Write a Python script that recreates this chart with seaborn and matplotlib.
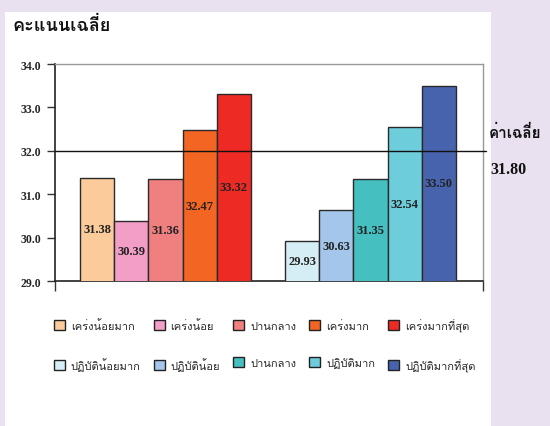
import matplotlib
matplotlib.use("Agg")
import matplotlib.pyplot as plt
from matplotlib import font_manager
from matplotlib.ft2font import FT2Font
from matplotlib.patches import Patch, Rectangle
import seaborn as sns
import pandas as pd

# Data
stress_labels = ["เคร่งน้อยมาก", "เคร่งน้อย", "ปานกลาง", "เคร่งมาก", "เคร่งมากที่สุด"]
stress_scores = [31.38, 30.39, 31.36, 32.47, 33.32]
stress_colors = ["#FBCB9B", "#F29EC6", "#F08080", "#F26522", "#EE2A24"]

practice_labels = ["ปฏิบัติน้อยมาก", "ปฏิบัติน้อย", "ปานกลาง", "ปฏิบัติมาก", "ปฏิบัติมากที่สุด"]
practice_scores = [29.93, 30.63, 31.35, 32.54, 33.50]
practice_colors = ["#D5EEF5", "#A3C6EA", "#45BFBF", "#6DCDDB", "#4863AE"]

mean_score = 31.80
y_ticks = [29.0, 30.0, 31.0, 32.0, 33.0, 34.0]

# find a font that has Thai glyphs
thai_font = None
for f in font_manager.fontManager.ttflist:
    try:
        if ord("ก") in FT2Font(f.fname).get_charmap():
            thai_font = f.name
            break
    except Exception:
        pass
families = ([thai_font] if thai_font else []) + ["DejaVu Sans"]

sns.set_theme(style="white")
plt.rcParams["font.family"] = families

# two groups with one empty slot between them
positions = [0, 1, 2, 3, 4, 6, 7, 8, 9, 10]
df = pd.DataFrame({
    "pos": positions,
    "score": stress_scores + practice_scores,
    "key": [f"k{i}" for i in range(10)],
})
colors = stress_colors + practice_colors

fig = plt.figure(figsize=(5.5, 4.27), dpi=100)
fig.patch.set_facecolor("#E9E1EF")
fig.patches.append(Rectangle((5 / 550, 0), 486 / 550, (427 - 12.5) / 427,
                             transform=fig.transFigure, facecolor="white",
                             edgecolor="none", zorder=-5))

ax = fig.add_axes([55 / 550, (427 - 282) / 427, 428 / 550, 217 / 427])
ax.set_zorder(2)
ax.set_facecolor("white")
sns.barplot(data=df, x="pos", y="score", hue="key", palette=colors,
            native_scale=True, width=1.0, dodge=False, legend=False, saturation=1,
            edgecolor="#2a2a2a", linewidth=1.0, ax=ax, zorder=3)

ax.set_ylim(29, 34)
ax.set_xlim(-1.23, 11.29)
ax.set_yticks(y_ticks)
ax.set_yticklabels([f"{t:.1f}" for t in y_ticks], family="Liberation Serif",
                   fontweight="bold", fontsize=8.5)
ax.set_xticks([-1.23, 11.29])
ax.set_xticklabels([])
ax.tick_params(axis="y", left=True, direction="out", length=6, width=1, color="#333333", pad=4)
ax.tick_params(axis="x", bottom=True, direction="out", length=7, width=1, color="#333333")
ax.set_xlabel("")
ax.set_ylabel("")
for side in ["left", "bottom"]:
    ax.spines[side].set_color("#222222")
    ax.spines[side].set_linewidth(1.2)
for side in ["top", "right"]:
    ax.spines[side].set_color("#999999")
    ax.spines[side].set_linewidth(1.0)

# reference line
ax.axhline(32.0, xmin=0, xmax=1.008, color="#111111", linewidth=1.0, zorder=4, clip_on=False)

# value labels inside bars
for p, v in zip(positions, stress_scores + practice_scores):
    ax.text(p, (29 + v) / 2, f"{v:.2f}", ha="center", va="center",
            family="Liberation Serif", fontweight="bold", fontsize=9,
            color="#222222", zorder=5)

# titles
fig.text(12 / 550, 1 - 26 / 427, "คะแนนเฉลี่ย", fontsize=13, fontweight="bold",
         ha="left", va="center", color="#111111")
fig.text(489 / 550, 1 - 133 / 427, "ค่าเฉลี่ย", fontsize=11, fontweight="bold",
         ha="left", va="center", color="#111111")
fig.text(490 / 550, 1 - 170 / 427, f"{mean_score:.2f}", fontsize=11.5, fontweight="bold",
         family="Liberation Serif", ha="left", va="center", color="#111111")

# legend: first row stress, second row practice
handles, labels = [], []
for i in range(5):
    handles.append(Patch(facecolor=stress_colors[i], edgecolor="#222222", linewidth=1))
    labels.append(stress_labels[i])
    handles.append(Patch(facecolor=practice_colors[i], edgecolor="#222222", linewidth=1))
    labels.append(practice_labels[i])
fig.legend(handles, labels, ncol=5, loc="upper left",
           bbox_to_anchor=(44 / 550, 1 - 309 / 427), frameon=False,
           fontsize=8, handlelength=1.0, handleheight=1.0, handletextpad=0.5,
           columnspacing=1.2, labelspacing=2.35)

fig.savefig("out.png", dpi=100, facecolor=fig.get_facecolor())
